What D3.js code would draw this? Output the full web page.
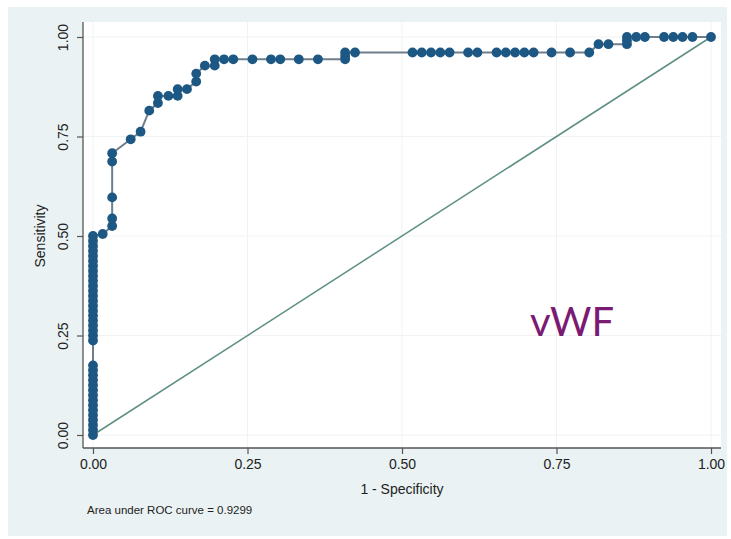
<!DOCTYPE html>
<html>
<head>
<meta charset="utf-8">
<script src="https://cdn.jsdelivr.net/npm/d3@7"></script>
<style>
  html, body { margin: 0; padding: 0; background: #ffffff; }
  svg { display: block; }
  text { font-family: "Liberation Sans", Arial, Helvetica, sans-serif; }
</style>
</head>
<body>
<svg id="chart" width="731" height="539"></svg>
<script>
// ROC curve for vWF: false positive rate (1 - specificity) and true positive rate (sensitivity)
const fpr = [
  0, 0, 0, 0, 0, 0, 0, 0, 0, 0, 0, 0, 0, 0, 0,
  0, 0, 0, 0, 0, 0, 0, 0, 0, 0, 0, 0, 0, 0, 0, 0, 0, 0, 0, 0, 0, 0,
  0.0157, 0.031, 0.031, 0.031, 0.031, 0.031,
  0.061, 0.077, 0.091, 0.105, 0.105, 0.122, 0.137, 0.137, 0.152,
  0.167, 0.167, 0.181, 0.197, 0.197, 0.212, 0.227, 0.258, 0.288, 0.303,
  0.333, 0.364, 0.408, 0.408, 0.408, 0.424,
  0.517, 0.532, 0.547, 0.562, 0.577, 0.607, 0.622, 0.653, 0.668, 0.683,
  0.698, 0.713, 0.742, 0.772, 0.803, 0.818, 0.834, 0.864, 0.864, 0.864,
  0.879, 0.893, 0.924, 0.939, 0.954, 0.970, 1.0
];
const tpr = [
  0, 0.0125, 0.025, 0.0375, 0.05, 0.0625, 0.075, 0.0875, 0.1, 0.1125, 0.125, 0.1375, 0.15, 0.1625, 0.175,
  0.2375, 0.25, 0.2625, 0.275, 0.2875, 0.3, 0.3125, 0.325, 0.3375, 0.35, 0.3625, 0.375, 0.3875, 0.4,
  0.4125, 0.425, 0.4375, 0.45, 0.4625, 0.475, 0.4875, 0.5,
  0.505, 0.525, 0.544, 0.597, 0.687, 0.708,
  0.743, 0.762, 0.815, 0.834, 0.852, 0.852, 0.852, 0.869, 0.869,
  0.888, 0.908, 0.928, 0.928, 0.944, 0.944, 0.944, 0.944, 0.944, 0.944,
  0.944, 0.944, 0.944, 0.952, 0.961, 0.961,
  0.961, 0.961, 0.961, 0.961, 0.961, 0.961, 0.961, 0.961, 0.961, 0.961,
  0.961, 0.961, 0.961, 0.961, 0.961, 0.982, 0.982, 0.982, 0.991, 1.0,
  1.0, 1.0, 1.0, 1.0, 1.0, 1.0, 1.0
];
const tickValues = [0, 0.25, 0.5, 0.75, 1];
const tickLabels = ["0.00", "0.25", "0.50", "0.75", "1.00"];
const xTitle = "1 - Specificity";
const yTitle = "Sensitivity";
const aucNote = "Area under ROC curve = 0.9299";
const markerLabel = "vWF";

const svg = d3.select("#chart");

// Outer graph region (light blue-gray panel)
svg.append("rect")
  .attr("x", 8).attr("y", 7).attr("width", 719).attr("height", 529)
  .attr("fill", "#eaf2f3");

// Plot region
const plot = { left: 83, right: 721, top: 22, bottom: 448 };
svg.append("rect")
  .attr("x", plot.left).attr("y", plot.top)
  .attr("width", plot.right - plot.left).attr("height", plot.bottom - plot.top)
  .attr("fill", "#ffffff");

const x = d3.scaleLinear().domain([0, 1]).range([93, 711]);
const y = d3.scaleLinear().domain([0, 1]).range([435, 37]);

// Faint grid lines
const grid = svg.append("g").attr("stroke", "#eff3f4").attr("stroke-width", 1);
tickValues.forEach(v => {
  grid.append("line").attr("x1", x(v)).attr("x2", x(v)).attr("y1", plot.top).attr("y2", plot.bottom);
  grid.append("line").attr("x1", plot.left).attr("x2", plot.right).attr("y1", y(v)).attr("y2", y(v));
});

// Axes
const fmt = (d, i) => tickLabels[i];
const yAxis = svg.append("g")
  .attr("transform", `translate(${plot.left},0)`)
  .call(d3.axisLeft(y).tickValues(tickValues).tickFormat(fmt).tickSize(6).tickPadding(4));
const xAxis = svg.append("g")
  .attr("transform", `translate(0,${plot.bottom})`)
  .call(d3.axisBottom(x).tickValues(tickValues).tickFormat(fmt).tickSize(6).tickPadding(5));

[xAxis, yAxis].forEach(g => {
  g.select(".domain").remove();
  g.selectAll(".tick line").attr("stroke", "#555").attr("stroke-width", 1.2);
  g.selectAll(".tick text").attr("fill", "#222").style("font-size", "14px");
});
yAxis.selectAll(".tick text")
  .attr("text-anchor", "middle")
  .attr("transform", "translate(-20,0) rotate(-90)")
  .attr("x", 0).attr("dy", "0.35em");

svg.append("line").attr("x1", plot.left).attr("x2", plot.left)
  .attr("y1", plot.top).attr("y2", plot.bottom)
  .attr("stroke", "#555").attr("stroke-width", 1.3);
svg.append("line").attr("x1", plot.left).attr("x2", plot.right)
  .attr("y1", plot.bottom).attr("y2", plot.bottom)
  .attr("stroke", "#555").attr("stroke-width", 1.3);

// Chance diagonal
svg.append("line")
  .attr("x1", x(0)).attr("y1", y(0)).attr("x2", x(1)).attr("y2", y(1))
  .attr("stroke", "#5e8f84").attr("stroke-width", 1.5);

// ROC curve: connecting line then markers
const pts = fpr.map((f, i) => [f, tpr[i]]);
svg.append("path")
  .datum(pts)
  .attr("fill", "none")
  .attr("stroke", "#6e7f8b")
  .attr("stroke-width", 2)
  .attr("d", d3.line().x(d => x(d[0])).y(d => y(d[1])));
svg.append("g").selectAll("circle")
  .data(pts).join("circle")
  .attr("cx", d => x(d[0])).attr("cy", d => y(d[1]))
  .attr("r", 4.9)
  .attr("fill", "#1d5784");

// Titles and notes
svg.append("text").attr("x", 402).attr("y", 494)
  .attr("text-anchor", "middle").style("font-size", "14px").attr("fill", "#222")
  .text(xTitle);
svg.append("text")
  .attr("transform", "translate(45,236) rotate(-90)")
  .attr("text-anchor", "middle").style("font-size", "14px").attr("fill", "#222")
  .text(yTitle);
svg.append("text").attr("x", 87).attr("y", 514)
  .style("font-size", "11.5px").attr("fill", "#222")
  .text(aucNote);

svg.append("text").attr("x", 530).attr("y", 336)
  .style("font-family", "Lato, 'Open Sans', sans-serif")
  .style("font-size", "40px").attr("fill", "#7a1a72")
  .text(markerLabel);
</script>
</body>
</html>
